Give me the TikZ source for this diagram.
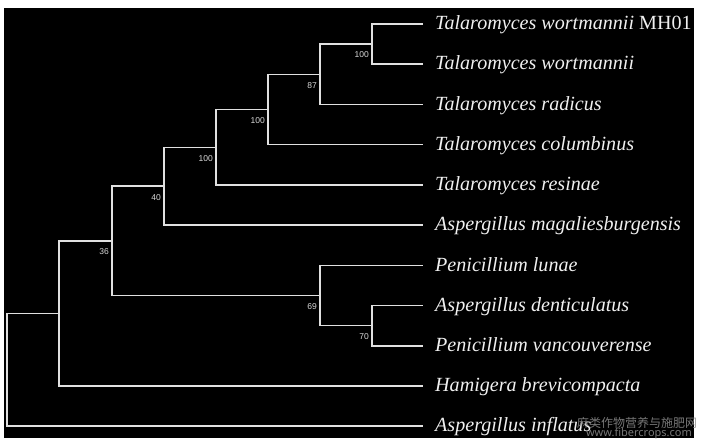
\documentclass[tikz,border=0pt]{standalone}
\usepackage{fontspec}
\setmainfont{Liberation Serif}
\newfontfamily\bootfont{Liberation Sans}
\newfontfamily\cjkfont{Noto Sans CJK SC}
\newfontfamily\wmfont{Noto Sans}
\begin{document}
\begin{tikzpicture}[x=1pt,y=-1pt,
  branch/.style={draw=white!88!black, line width=1.3pt, line join=miter},
  leaf/.style={anchor=base west, inner sep=0pt, xshift=12pt, yshift=-5.5pt, text=white!94!black, font=\fontsize{20.1}{24}\selectfont\itshape},
  boot/.style={anchor=east, inner sep=0pt, xshift=-3pt, yshift=-11pt, text=white!85!black, font=\bootfont\fontsize{8.5}{9}\selectfont},
  wm/.style={inner sep=0pt, text=black!45, opacity=0.85}]
\useasboundingbox (0,0) rectangle (702,447);
\fill[white] (0,0) rectangle (702,447);
\fill[black] (4,8) rectangle (694,438);
% leaf ends
\coordinate (t1) at (423,24);
\coordinate (t2) at (423,64);
\coordinate (t3) at (423,104.5);
\coordinate (t4) at (423,144.5);
\coordinate (t5) at (423,185);
\coordinate (t6) at (423,225);
\coordinate (t7) at (423,265.5);
\coordinate (t8) at (423,305.5);
\coordinate (t9) at (423,346);
\coordinate (t10) at (423,386);
\coordinate (t11) at (423,426);
% internal nodes
\coordinate (H) at (372,44);
\coordinate (G) at (320,74.25);
\coordinate (F) at (268,109.4);
\coordinate (E) at (216,147.2);
\coordinate (C) at (164,186.1);
\coordinate (I) at (372,325.75);
\coordinate (D) at (320,295.6);
\coordinate (B) at (112,240.9);
\coordinate (A) at (59,313.4);
\coordinate (R) at (7,369.7);
% branches
\draw[branch] (H) |- (t1);
\draw[branch] (H) |- (t2);
\draw[branch] (G) |- (H);
\draw[branch] (G) |- (t3);
\draw[branch] (F) |- (G);
\draw[branch] (F) |- (t4);
\draw[branch] (E) |- (F);
\draw[branch] (E) |- (t5);
\draw[branch] (C) |- (E);
\draw[branch] (C) |- (t6);
\draw[branch] (I) |- (t8);
\draw[branch] (I) |- (t9);
\draw[branch] (D) |- (t7);
\draw[branch] (D) |- (I);
\draw[branch] (B) |- (C);
\draw[branch] (B) |- (D);
\draw[branch] (A) |- (B);
\draw[branch] (A) |- (t10);
\draw[branch] (R) |- (A);
\draw[branch] (R) |- (t11);
% leaf labels
\node[leaf] (n1) at (t1) {Talaromyces wortmannii {\upshape MH01}};
\node[leaf] (n2) at (t2) {Talaromyces wortmannii};
\node[leaf] (n3) at (t3) {Talaromyces radicus};
\node[leaf] (n4) at (t4) {Talaromyces columbinus};
\node[leaf] (n5) at (t5) {Talaromyces resinae};
\node[leaf] (n6) at (t6) {Aspergillus magaliesburgensis};
\node[leaf] (n7) at (t7) {Penicillium lunae};
\node[leaf] (n8) at (t8) {Aspergillus denticulatus};
\node[leaf] (n9) at (t9) {Penicillium vancouverense};
\node[leaf] (n10) at (t10) {Hamigera brevicompacta};
\node[leaf] (n11) at (t11) {Aspergillus inflatus};
% bootstrap values
\node[boot] (bH) at (H) {100};
\node[boot] (bG) at (G) {87};
\node[boot] (bF) at (F) {100};
\node[boot] (bE) at (E) {100};
\node[boot] (bC) at (C) {40};
\node[boot] (bB) at (B) {36};
\node[boot] (bD) at (D) {69};
\node[boot] (bI) at (I) {70};
% watermark
\node[wm, font=\cjkfont\fontsize{12}{13}\selectfont] (wm1) at (637,422.5) {麻类作物营养与施肥网};
\node[wm, font=\wmfont\fontsize{11}{12}\selectfont] (wm2) at (639,434) {www.fibercrops.com};
\end{tikzpicture}
\end{document}
